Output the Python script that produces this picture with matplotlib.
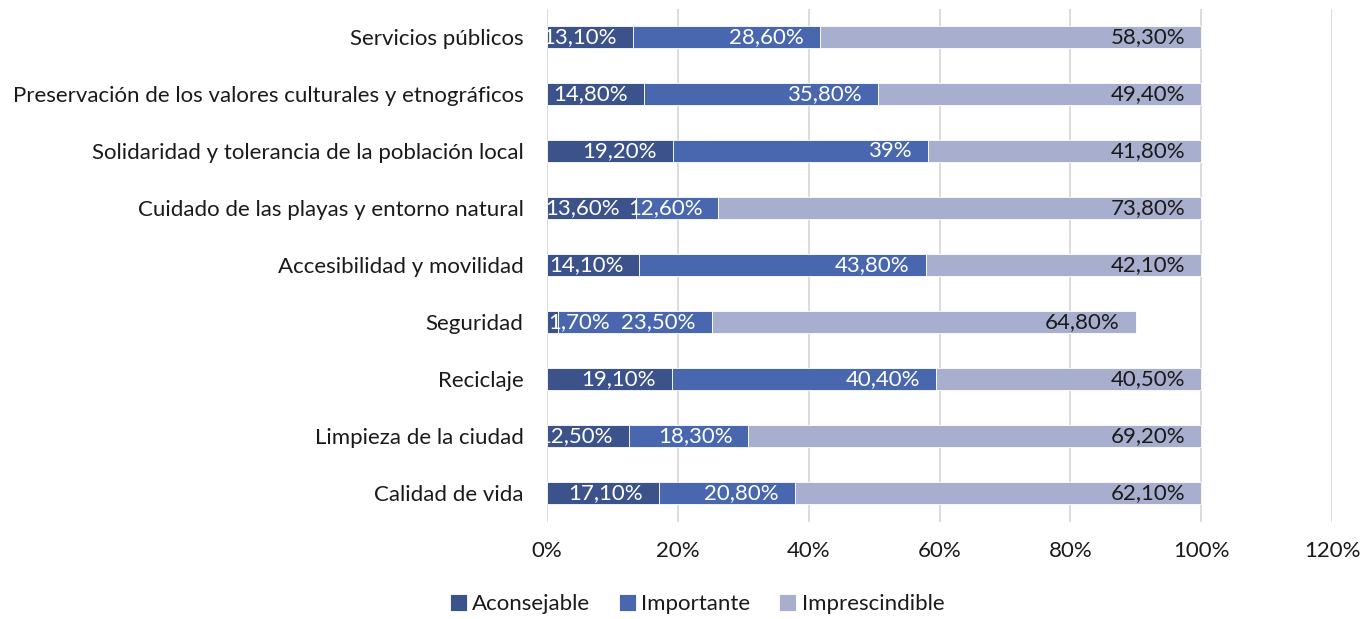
import numpy as np
import matplotlib
matplotlib.use('Agg')
import matplotlib.pyplot as plt

plt.rcParams['font.family'] = ['Lato', 'DejaVu Sans']

# categorias de abajo hacia arriba
categorias = ['Calidad de vida', 'Limpieza de la ciudad', 'Reciclaje', 'Seguridad',
              'Accesibilidad y movilidad', 'Cuidado de las playas y entorno natural',
              'Solidaridad y tolerancia de la población local',
              'Preservación de los valores culturales y etnográficos',
              'Servicios públicos']
aconsejable = [17.1, 12.5, 19.1, 1.7, 14.1, 13.6, 19.2, 14.8, 13.1]
importante = [20.8, 18.3, 40.4, 23.5, 43.8, 12.6, 39.0, 35.8, 28.6]
imprescindible = [62.1, 69.2, 40.5, 64.8, 42.1, 73.8, 41.8, 49.4, 58.3]
series = ['Aconsejable', 'Importante', 'Imprescindible']
colores = ['#3C528B', '#4967AF', '#A8AFCE']
color_texto = ['white', 'white', '#1a1a1a']
fs = 16


def etiqueta(v):
    if float(v).is_integer():
        return '%d%%' % v
    return ('%.2f' % v).replace('.', ',') + '%'


fig = plt.figure(figsize=(13.63, 6.19), dpi=100)
ax = fig.add_axes([547 / 1363, 1 - 521.5 / 619, 785 / 1363, 513 / 619])

y = np.arange(len(categorias))
izq = np.zeros(len(categorias))
for nombre, vals, col, ct in zip(series, [aconsejable, importante, imprescindible], colores, color_texto):
    vals = np.array(vals)
    ax.barh(y, vals, left=izq, height=0.39, color=col, edgecolor='white',
            linewidth=0.6, label=nombre, zorder=3)
    for yi, l, v in zip(y, izq, vals):
        if v < 5:
            # segmento muy estrecho: la etiqueta sale desde su inicio
            ax.annotate(etiqueta(v), (l, yi), xytext=(1, 0), textcoords='offset pixels',
                        ha='left', va='center', color=ct, fontsize=fs, zorder=4)
        else:
            t = ax.annotate(etiqueta(v), (l + v, yi), xytext=(-16, 0), textcoords='offset pixels',
                            ha='right', va='center', color=ct, fontsize=fs, zorder=4)
            t.set_clip_on(True)
    izq = izq + vals

ax.set_xlim(0, 120)
ax.set_ylim(-0.5, len(categorias) - 0.5)
ax.set_xticks(np.arange(0, 121, 20))
ax.set_xticklabels(['%d%%' % v for v in np.arange(0, 121, 20)])
ax.set_yticks(y)
ax.set_yticklabels(categorias)
ax.xaxis.grid(True, color='#D9D9D9', linewidth=1.3)
ax.set_axisbelow(True)
ax.tick_params(axis='x', length=0, pad=14, labelsize=fs, labelcolor='#1a1a1a')
ax.tick_params(axis='y', length=0, pad=17, labelsize=fs, labelcolor='#1a1a1a')
for s in ax.spines.values():
    s.set_visible(False)

fig.legend(loc='center', bbox_to_anchor=(0.5115, 0.024), ncol=3, frameon=False,
           fontsize=fs, handlelength=0.75, handleheight=0.75, handletextpad=0.25,
           columnspacing=1.3, labelcolor='#1a1a1a')

fig.savefig('out.png', dpi=100)
